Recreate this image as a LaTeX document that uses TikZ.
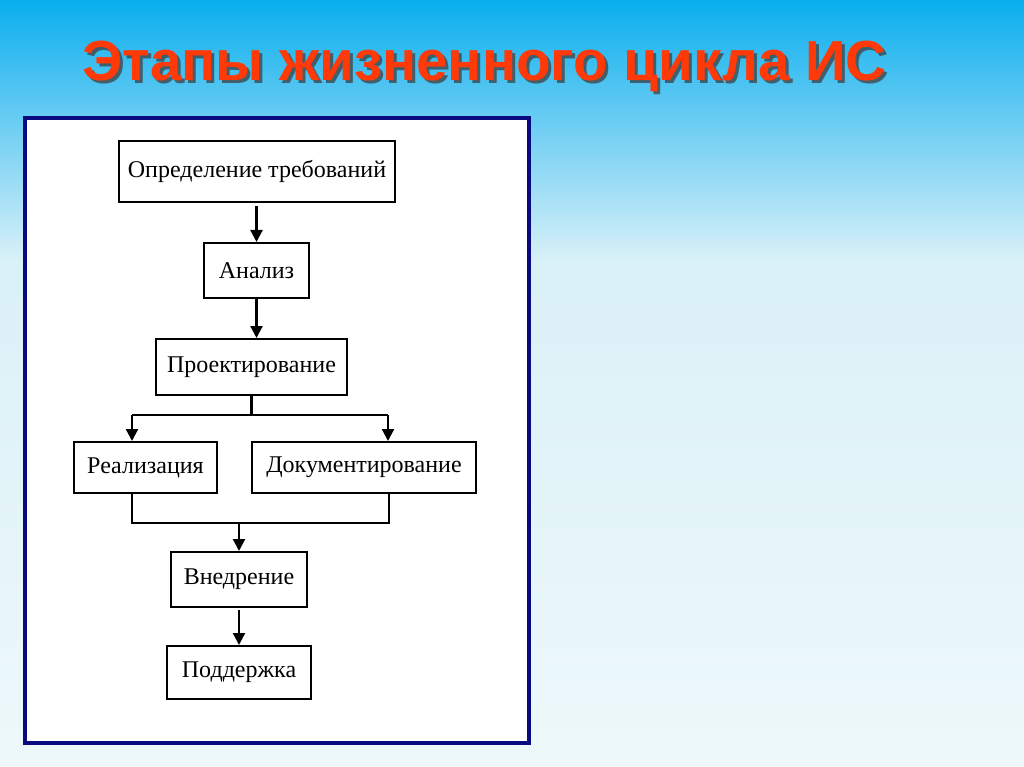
\documentclass[tikz,border=0pt]{standalone}
\usepackage{fontspec}
\setmainfont{Liberation Serif}
\newfontfamily\titlefont{Liberation Sans}
\usetikzlibrary{arrows.meta}

\definecolor{bgtop}{RGB}{10,174,238}
\definecolor{bgmid}{RGB}{218,241,248}
\definecolor{bgbot}{RGB}{238,248,250}
\definecolor{titlered}{RGB}{255,58,8}
\definecolor{framenavy}{RGB}{10,10,128}

\tikzset{
  stage/.style={draw, line width=2pt, fill=white, inner sep=0pt,
    font=\fontsize{24}{27}\selectfont},
  heading/.style={anchor=base west, inner sep=0pt,
    font=\titlefont\bfseries\fontsize{56.5}{60}\selectfont},
  link/.style={line width=2.2pt},
  arr/.style={link, -{Triangle[width=12pt,length=12pt]}}
}

\begin{document}
\begin{tikzpicture}[x=1pt, y=-1pt]
\useasboundingbox (0,0) rectangle (1024,767);
\shade[top color=bgtop, bottom color=bgmid] (0,0) rectangle (1024,262);
\shade[top color=bgmid, bottom color=bgbot] (0,261) rectangle (1024,767);
\node[heading, text=black!75, opacity=0.75] (shadow) at (85,84) {Этапы жизненного цикла ИС};
\node[heading, text=titlered] (title) at (82,81) {Этапы жизненного цикла ИС};
\draw[line width=4pt, draw=framenavy, fill=white] (25,118) rectangle (529,743);
\node[stage, minimum width=276, minimum height=61] (req) at (257,171.5) {Определение требований};
\node[stage, minimum width=105, minimum height=55] (anl) at (256.5,270.5) {Анализ};
\node[stage, minimum width=191, minimum height=56] (des) at (251.5,367) {Проектирование};
\node[stage, minimum width=143, minimum height=51] (impl) at (145.5,467.5) {Реализация};
\node[stage, minimum width=224, minimum height=51] (doc) at (364,467.5) {Документирование};
\node[stage, minimum width=136, minimum height=55] (dep) at (239,579.5) {Внедрение};
\node[stage, minimum width=144, minimum height=53] (sup) at (239,672.5) {Поддержка};
\coordinate (forkl) at (132,415);
\coordinate (forkr) at (388,415);
\coordinate (joinl) at (132,523);
\coordinate (joinr) at (389,523);
\draw[arr] ([yshift=-3]req.south -| anl.north) -- (anl.north);
\draw[arr] (anl.south) -- (anl.south |- des.north);
\draw[link] (des.south) -- (des.south |- forkl);
\draw[link] (forkl) -- (forkr);
\draw[arr] (forkl) -- (forkl |- impl.north);
\draw[arr] (forkr) -- (forkr |- doc.north);
\draw[link] (impl.south -| joinl) -- (joinl) -- (joinr) -- (doc.south -| joinr);
\draw[arr] (dep.north |- joinl) -- (dep.north);
\draw[arr] ([yshift=-2]dep.south) -- (sup.north);
\end{tikzpicture}
\end{document}
